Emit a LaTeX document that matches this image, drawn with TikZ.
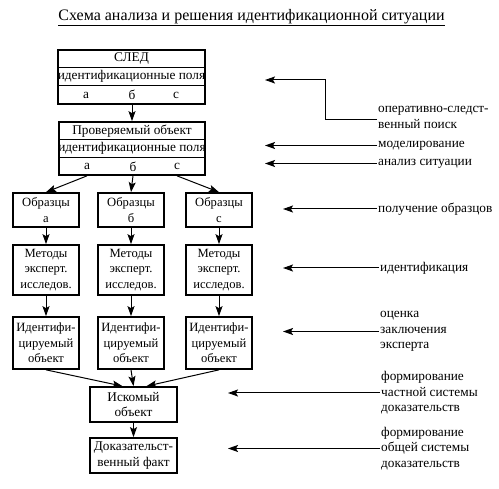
\documentclass[tikz,border=0pt]{standalone}
\usepackage{fontspec}
\setmainfont{Liberation Serif}
\usetikzlibrary{arrows.meta}
\begin{document}
\begin{tikzpicture}[x=1pt,y=-1pt,
  box/.style={draw, line width=1.7pt, inner sep=0pt, align=center,
    font=\fontsize{13.3}{15.5}\selectfont},
  txt/.style={inner sep=0pt, align=center, font=\fontsize{13.3}{15.5}\selectfont},
  lbl/.style={anchor=west, align=left, inner sep=1pt, font=\fontsize{13.3}{15.5}\selectfont},
  rowline/.style={line width=1pt},
  arr/.style={-{Stealth[length=10pt,width=7pt,inset=2pt]}, line width=1pt},
  colbox/.style={box, minimum width=66pt, font=\fontsize{12.6}{15.5}\selectfont},
]
\useasboundingbox (0,0) rectangle (499,489);

% title
\node[txt, font=\fontsize{16}{18}\selectfont] (title) at (251.5,18) {\underline{Схема анализа и решения идентификационной ситуации}};

% СЛЕД
\node[box, minimum width=147pt, minimum height=54pt] (sled) at (131.5,77) {};
\draw[rowline] (sled.west |- 0,67.5) -- (sled.east |- 0,67.5);
\draw[rowline] (sled.west |- 0,85.5) -- (sled.east |- 0,85.5);
\node[txt] (sledT) at (131.5,59) {СЛЕД};
\node[txt] (sledF) at (131.5,76.5) {идентификационные поля};
\node[txt] (sledA) at (86,95) {а};
\node[txt] (sledB) at (132,95) {б};
\node[txt] (sledC) at (176,95) {c};

% Проверяемый объект
\node[box, minimum width=146pt, minimum height=53pt] (prov) at (132,148.5) {};
\draw[rowline] (prov.west |- 0,139.5) -- (prov.east |- 0,139.5);
\draw[rowline] (prov.west |- 0,157.5) -- (prov.east |- 0,157.5);
\node[txt] (provT) at (132,131) {Проверяемый объект};
\node[txt] (provF) at (132,148.5) {идентификационные поля};
\node[txt] (provA) at (87,166.5) {а};
\node[txt] (provB) at (133,166.5) {б};
\node[txt] (provC) at (177,166.5) {c};

\draw[arr] (sled.south -| sledB) -- (prov.north -| sledB);

% columns
\node[colbox, minimum height=34pt] (obrA) at (46,210) {Образцы\\а};
\node[colbox, minimum height=34pt] (obrB) at (131,210) {Образцы\\б};
\node[colbox, minimum height=34pt] (obrC) at (219,210) {Образцы\\c};

\node[colbox, minimum height=50pt] (metA) at (46,270) {Методы\\эксперт.\\исследов.};
\node[colbox, minimum height=50pt] (metB) at (131,270) {Методы\\эксперт.\\исследов.};
\node[colbox, minimum height=50pt] (metC) at (219,270) {Методы\\эксперт.\\исследов.};

\node[colbox, minimum height=52pt] (idA) at (46,343) {Идентифи-\\цируемый\\объект};
\node[colbox, minimum height=52pt] (idB) at (131,343) {Идентифи-\\цируемый\\объект};
\node[colbox, minimum height=52pt] (idC) at (219,343) {Идентифи-\\цируемый\\объект};

\node[box, minimum width=87pt, minimum height=35pt] (isk) at (133.5,404.5) {Искомый\\объект};
\node[box, minimum width=87pt, minimum height=35pt] (dok) at (133.5,455.5) {Доказательст-\\венный факт};

\draw[arr] (prov.south -| provA) -- (obrA.north);
\draw[arr] (prov.south -| provB) -- (obrB.north);
\draw[arr] (prov.south -| provC) -- (obrC.north);

\draw[arr] (obrA) -- (metA);
\draw[arr] (obrB) -- (metB);
\draw[arr] (obrC) -- (metC);
\draw[arr] (metA) -- (idA);
\draw[arr] (metB) -- (idB);
\draw[arr] (metC) -- (idC);

\draw[arr] (idA.south) -- ([xshift=-11pt]isk.north);
\draw[arr] (idB.south) -- (isk.north);
\draw[arr] (idC.south) -- ([xshift=13pt]isk.north);
\draw[arr] (isk) -- (dok);

% right labels
\node[lbl] (op) at (377,117.5) {оперативно-следст-\\венный поиск};
\node[lbl] (mod) at (377,145.5) {моделирование};
\node[lbl] (an) at (377,163.5) {анализ ситуации};
\node[lbl] (pol) at (377,209) {получение образцов};
\node[lbl] (ide) at (379,268) {идентификация};
\node[lbl] (oc) at (379,331.5) {оценка\\заключения\\эксперта};
\node[lbl] (f1) at (380,393) {формирование\\частной системы\\доказательств};
\node[lbl] (f2) at (380,448.5) {формирование\\общей системы\\доказательств};

\coordinate (opC) at (325,80);
\coordinate (opT) at (265,80);
\coordinate (modT) at (265,145.5);
\coordinate (anT) at (265,163.5);
\coordinate (polT) at (283,209);
\coordinate (ideT) at (283,268);
\coordinate (ocT) at (283,331.5);
\coordinate (f1T) at (228,393);
\coordinate (f2T) at (228,448.5);

\draw[arr] ([yshift=-2pt]op.west) -| (opC) -- (opT);
\draw[arr] (mod.west) -- (modT);
\draw[arr] (an.west) -- (anT);
\draw[arr] (pol.west) -- (polT);
\draw[arr] (ide.west) -- (ideT);
\draw[arr] (oc.west) -- (ocT);
\draw[arr] (f1.west) -- (f1T);
\draw[arr] (f2.west) -- (f2T);
\end{tikzpicture}
\end{document}
